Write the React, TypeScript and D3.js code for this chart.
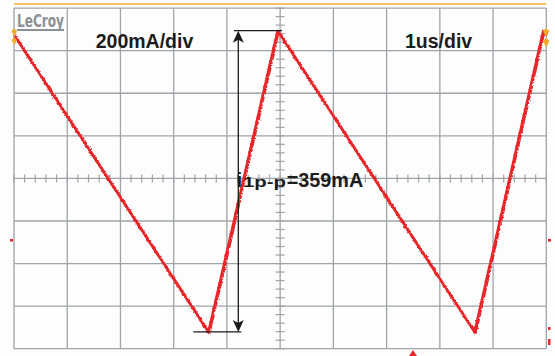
import React from "react";
import * as d3 from "d3";

// Scope capture: inductor current, triangle ripple
const timeUs = [0, 3.65, 4.95, 8.65, 9.94, 10];
const currentMa = [171, -183, 176, -183, 176, 171];

const voltsLabel = "200mA/div";
const timeLabel = "1us/div";
const brandLabel = "LeCroy";

const W = 555;
const H = 356;
const plotLeft = 14;
const plotRight = 546.3;
const plotTop = 8.1;
const plotBottom = 348.7;
const divsX = 10;
const divsY = 8;
const maPerDiv = 50.74;

export default function App() {
  const x = d3.scaleLinear().domain([0, divsX]).range([plotLeft, plotRight]);
  const y = d3
    .scaleLinear()
    .domain([-(divsY / 2) * maPerDiv, (divsY / 2) * maPerDiv])
    .range([plotBottom, plotTop]);

  const pts = timeUs.map((t, i) => [t, currentMa[i]] as [number, number]);
  const line = d3
    .line<[number, number]>()
    .x((d) => x(d[0]))
    .y((d) => y(d[1]));
  const tracePath = line(pts) ?? "";

  const gridX = d3.range(0, divsX + 1);
  const gridY = d3.range(0, divsY + 1).map((k) => -(divsY / 2) * maPerDiv + k * maPerDiv);

  const cx = x(divsX / 2);
  const cy = y(0);
  const minorX = d3.range(0, divsX * 5 + 1).map((k) => k / 5);
  const minorY = d3.range(0, divsY * 5 + 1).map((k) => -(divsY / 2) * maPerDiv + (k * maPerDiv) / 5);

  const iMax = d3.max(currentMa)!;
  const iMin = d3.min(currentMa)!;
  const ripple = Math.round(iMax - iMin);
  const peakIdx = currentMa.indexOf(iMax, 1);
  const valleyIdx = currentMa.indexOf(iMin);

  const arrowX = 238.3;
  const yTop = y(iMax);
  const yBot = y(iMin);
  const grid = "#9ea4a9";

  return (
    <svg width={W} height={H} style={{ position: "absolute", left: 0, top: 0, background: "#fdfdfd" }}>
      <defs>
        <filter id="jitter" x="-5%" y="-5%" width="110%" height="110%">
          <feTurbulence type="turbulence" baseFrequency="0.35" numOctaves="2" seed="7" result="n" />
          <feDisplacementMap in="SourceGraphic" in2="n" scale="3.2" xChannelSelector="R" yChannelSelector="G" />
        </filter>
      </defs>
      <rect x={0} y={0} width={W} height={H} fill="#fdfdfd" />
      {/* top status bar line */}
      <line x1={plotLeft} x2={plotRight} y1={4} y2={4} stroke="#f0ac3a" strokeWidth={1.4} />
      {/* graticule */}
      {gridX.map((g) => (
        <line key={"gx" + g} x1={x(g)} x2={x(g)} y1={plotTop} y2={plotBottom} stroke={grid} strokeWidth={1.3} />
      ))}
      {gridY.map((g, i) => (
        <line key={"gy" + i} x1={plotLeft} x2={plotRight} y1={y(g)} y2={y(g)} stroke={grid} strokeWidth={1.3} />
      ))}
      {minorX.map((m, i) => (
        <line key={"mx" + i} x1={x(m)} x2={x(m)} y1={cy - 4} y2={cy + 4} stroke={grid} strokeWidth={1.2} />
      ))}
      {minorY.map((m, i) => (
        <line key={"my" + i} x1={cx - 4.5} x2={cx + 4.5} y1={y(m)} y2={y(m)} stroke={grid} strokeWidth={1.2} />
      ))}
      {/* brand */}
      <text x={17} y={27} fontFamily="DejaVu Sans Condensed, DejaVu Sans" fontWeight="bold" fontSize={17} fill="#8c9196" textLength={47} lengthAdjust="spacingAndGlyphs">
        {brandLabel}
      </text>
      <line x1={17} x2={64} y1={30} y2={30} stroke="#8c9196" strokeWidth={1.8} />
      {/* trace: solid core with a noisy edge */}
      <path d={tracePath} fill="none" stroke="#e8272b" strokeWidth={2.2} strokeLinejoin="round" />
      <g filter="url(#jitter)">
        <path d={tracePath} fill="none" stroke="#e8272b" strokeWidth={2.8} strokeLinejoin="round" />
      </g>
      {/* channel / trigger markers */}
      <g fill="#f2aa2e">
        <path d="M11.5,31 L14.5,28.5 L17,31 L14.5,37 Z" />
        <path d="M11.5,40 L14.5,37.5 L17,40 L14.5,45.5 Z" />
        <path d="M543,31 L546,28 L549.5,31 L546,37 Z" />
        <path d="M543,41 L546,38 L549.5,41 L546,47.5 Z" />
      </g>
      <g fill="#e8272b">
        <rect x={10} y={239} width={3} height={2.5} />
        <rect x={548} y={239} width={3} height={2.5} />
        <rect x={548} y={327} width={2.5} height={3} />
        <rect x={548} y={339} width={2.5} height={6} />
        <path d="M409,356 L413,350 L417,356 Z" />
      </g>
      {/* ripple annotation */}
      <g stroke="#1a1a1a" strokeWidth={1.3}>
        <line x1={234} x2={x(timeUs[peakIdx]) + 4.5} y1={yTop} y2={yTop} />
        <line x1={x(timeUs[valleyIdx]) - 15} x2={arrowX + 3} y1={yBot} y2={yBot} />
        <line x1={arrowX} x2={arrowX} y1={yTop + 6} y2={yBot - 6} />
      </g>
      <path d={`M${arrowX},${yTop} L${arrowX - 5.5},${yTop + 12} L${arrowX},${yTop + 9} L${arrowX + 5.5},${yTop + 12} Z`} fill="#1a1a1a" />
      <path d={`M${arrowX},${yBot} L${arrowX - 5.5},${yBot - 12} L${arrowX},${yBot - 9} L${arrowX + 5.5},${yBot - 12} Z`} fill="#1a1a1a" />
      {/* labels */}
      <g fontFamily="Liberation Sans, Arial, sans-serif" fontWeight="bold" fill="#1c1c1c">
        <text x={95.7} y={48.3} fontSize={19.5}>{voltsLabel}</text>
        <text x={405} y={47.5} fontSize={19.5}>{timeLabel}</text>
        <text x={236.5} y={187} fontSize={20.5}>i</text>
        <text x={243} y={187} fontSize={15.5} textLength={43} lengthAdjust="spacingAndGlyphs">1p-p</text>
        <text x={286.7} y={187} fontSize={20.5} textLength={76.6} lengthAdjust="spacingAndGlyphs">{`=${ripple}mA`}</text>
      </g>
    </svg>
  );
}
